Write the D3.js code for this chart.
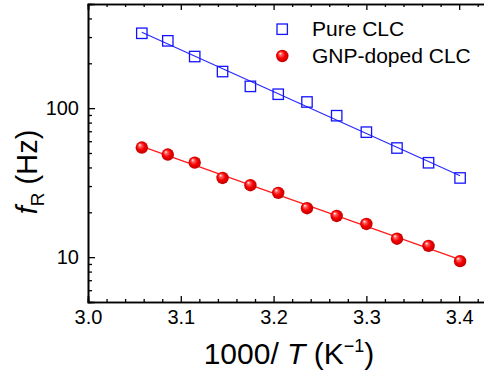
<!DOCTYPE html>
<html>
<head>
<meta charset="utf-8">
<script src="https://cdn.jsdelivr.net/npm/d3@7"></script>
<style>
  body { margin: 0; background: #fff; }
  svg { display: block; font-family: "Liberation Sans", Arial, sans-serif; }
</style>
</head>
<body>
<div class="chart"></div>
<script>
// Data (1000/T in K^-1, f_R in Hz)
var invTemp = [3.058, 3.086, 3.115, 3.145, 3.175, 3.205, 3.236, 3.268, 3.300, 3.333, 3.367, 3.401];
var pureCLC = [318, 283, 222, 176, 140, 124, 110, 89, 69, 54, 43, 34];
var gnpCLC = [54.4, 48.8, 43.1, 34.0, 30.4, 27.0, 21.3, 18.9, 16.7, 13.3, 11.9, 9.4];
var seriesNames = ["Pure CLC", "GNP-doped CLC"];
var xTicks = [3.0, 3.1, 3.2, 3.3, 3.4];
var yTicks = [10, 100];

// Setting up the svg size and margins
var svgWidth = 484;
var svgHeight = 377;
var margin = { top: 4, left: 88 };
var width = 399;
var height = 298;

var svg = d3.select(".chart")
    .append("svg")
    .attr("width", svgWidth)
    .attr("height", svgHeight);

// Gradient for the shiny red balls
var grad = svg.append("defs").append("radialGradient")
    .attr("id", "ball")
    .attr("cx", "50%").attr("cy", "50%").attr("r", "55%")
    .attr("fx", "32%").attr("fy", "28%");
grad.append("stop").attr("offset", "0%").attr("stop-color", "#ffffff");
grad.append("stop").attr("offset", "22%").attr("stop-color", "#ff6060");
grad.append("stop").attr("offset", "55%").attr("stop-color", "#f50000");
grad.append("stop").attr("offset", "100%").attr("stop-color", "#b80000");

var chartGroup = svg.append("g")
    .attr("transform", `translate(${margin.left}, ${margin.top})`);

// Scales
var xScale = d3.scaleLinear().domain([3.0, 3.43]).range([0, width]);
var yScale = d3.scaleLog().domain([5, 500]).range([height, 0]);

// Minor ticks
var xMinor = d3.range(3.0, 3.43, 0.02).filter(v => Math.abs(v * 10 - Math.round(v * 10)) > 0.01);
var yMinor = [6, 7, 8, 9, 20, 30, 40, 50, 60, 70, 80, 90, 200, 300, 400];

// Axes, ticks pointing inward
var bottomAxis = d3.axisBottom(xScale).tickValues(xTicks).tickSize(-6).tickPadding(10)
    .tickFormat(d3.format(".1f"));
var topAxis = d3.axisTop(xScale).tickValues(xTicks).tickSize(-6).tickFormat("");
var leftAxis = d3.axisLeft(yScale).tickValues(yTicks).tickSize(-7).tickPadding(9)
    .tickFormat(d3.format("d"));

var gx = chartGroup.append("g")
    .attr("transform", `translate(0, ${height})`)
    .call(bottomAxis);
gx.selectAll("text").attr("dy", 0).attr("y", 21.5);
chartGroup.append("g").call(topAxis);
chartGroup.append("g").call(leftAxis);

// Minor tick marks
chartGroup.append("g").call(d3.axisBottom(xScale).tickValues(xMinor).tickSize(-3).tickFormat(""))
    .attr("transform", `translate(0, ${height})`);
chartGroup.append("g").call(d3.axisTop(xScale).tickValues(xMinor).tickSize(-3).tickFormat(""));
chartGroup.append("g").call(d3.axisLeft(yScale).tickValues(yMinor).tickSize(-4).tickFormat(""));

chartGroup.selectAll(".domain").attr("stroke", "#000").attr("stroke-width", 1.6);
chartGroup.selectAll(".tick line").attr("stroke", "#000").attr("stroke-width", 1.3);
chartGroup.selectAll(".tick text").attr("font-size", "20px").attr("fill", "#000")
    .attr("font-family", "Liberation Sans, Arial, sans-serif");

// Linear fit of log10(f) against 1000/T
function fitLine(ys) {
    var lx = invTemp, ly = ys.map(v => Math.log10(v));
    var mx = d3.mean(lx), my = d3.mean(ly);
    var b = d3.sum(lx, (v, i) => (v - mx) * (ly[i] - my)) / d3.sum(lx, v => (v - mx) * (v - mx));
    var a = my - b * mx;
    var ends = d3.extent(lx);
    return ends.map(v => [v, Math.pow(10, a + b * v)]);
}

var line = d3.line().x(d => xScale(d[0])).y(d => yScale(d[1]));

chartGroup.append("path")
    .attr("d", line(fitLine(pureCLC)))
    .attr("fill", "none").attr("stroke", "#2a2aff").attr("stroke-width", 1.2);
chartGroup.append("path")
    .attr("d", line(fitLine(gnpCLC)))
    .attr("fill", "none").attr("stroke", "#ff1a1a").attr("stroke-width", 1.2);

// Open blue squares
chartGroup.selectAll(".sq")
    .data(pureCLC)
    .enter()
    .append("rect")
    .attr("x", (d, i) => xScale(invTemp[i]) - 5.2)
    .attr("y", d => yScale(d) - 5.2)
    .attr("width", 10.4).attr("height", 10.4)
    .attr("fill", "none").attr("stroke", "#1414ff").attr("stroke-width", 1.3);

// Red balls
chartGroup.selectAll(".ball")
    .data(gnpCLC)
    .enter()
    .append("circle")
    .attr("cx", (d, i) => xScale(invTemp[i]))
    .attr("cy", d => yScale(d))
    .attr("r", 6.2)
    .attr("fill", "url(#ball)");

// Legend
var legend = svg.append("g");
legend.append("rect")
    .attr("x", 277).attr("y", 24).attr("width", 10.4).attr("height", 10.4)
    .attr("fill", "none").attr("stroke", "#1414ff").attr("stroke-width", 1.3);
legend.append("circle")
    .attr("cx", 282.3).attr("cy", 56).attr("r", 6.2).attr("fill", "url(#ball)");
legend.selectAll("text")
    .data(seriesNames)
    .enter()
    .append("text")
    .attr("x", 312)
    .attr("y", (d, i) => 35.5 + i * 27.2)
    .attr("font-size", "21px")
    .text(d => d);

// Axis titles
var xTitle = svg.append("text")
    .attr("x", 289)
    .attr("y", 364)
    .attr("text-anchor", "middle")
    .attr("font-size", "30px");
xTitle.append("tspan").text("1000/ ");
xTitle.append("tspan").attr("font-style", "italic").text("T");
xTitle.append("tspan").text(" (K");
xTitle.append("tspan").attr("font-size", "18px").attr("dy", -12).text("\u22121");
xTitle.append("tspan").attr("dy", 12).text(")");

var yTitle = svg.append("text")
    .attr("transform", "translate(37, 172) rotate(-90)")
    .attr("text-anchor", "middle")
    .attr("font-size", "29px");
yTitle.append("tspan").attr("font-style", "italic").text("f");
yTitle.append("tspan").attr("font-size", "19px").attr("dy", 7).text("R");
yTitle.append("tspan").attr("dy", -7).text(" (Hz)");
</script>
</body>
</html>
